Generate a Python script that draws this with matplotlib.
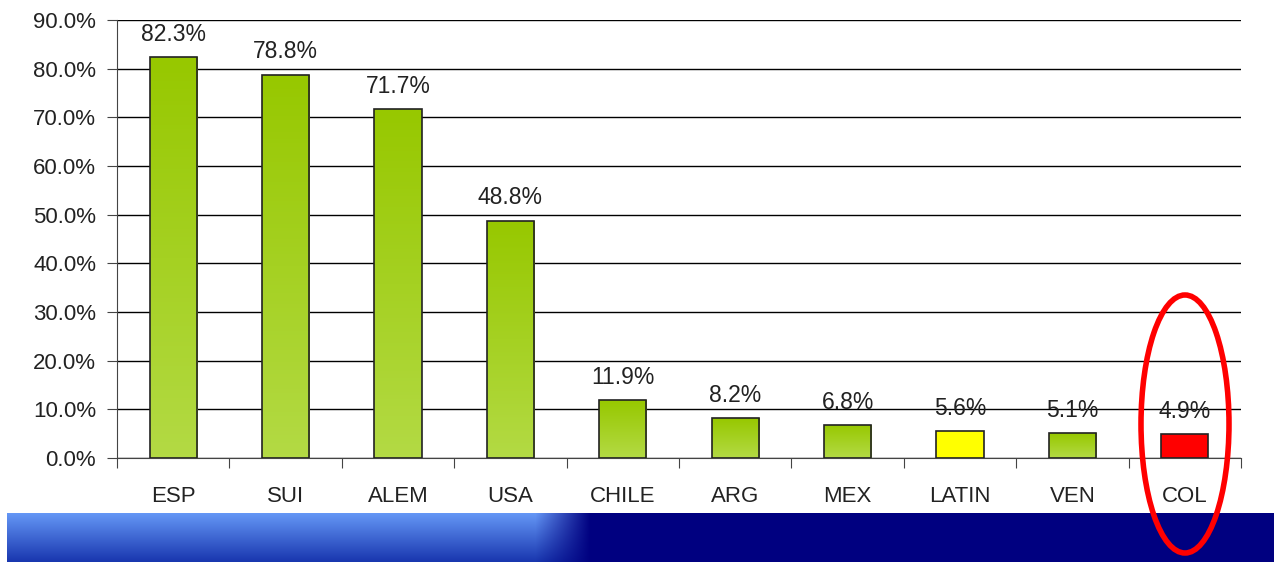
import numpy as np
import matplotlib.pyplot as plt
from matplotlib.patches import Ellipse
from matplotlib.colors import LinearSegmentedColormap

plt.rcParams['font.family'] = ['Liberation Sans', 'DejaVu Sans']

countries = ['ESP', 'SUI', 'ALEM', 'USA', 'CHILE', 'ARG', 'MEX', 'LATIN', 'VEN', 'COL']
values = [82.3, 78.8, 71.7, 48.8, 11.9, 8.2, 6.8, 5.6, 5.1, 4.9]
colors = ['green'] * 7 + ['#ffff00', 'green', '#ff0000']

fig = plt.figure(figsize=(12.74, 5.62), dpi=100)

# bottom banner
bax = fig.add_axes([0, 0, 1, 1 - 513 / 562], zorder=0)
w = 1274
h = 49
img = np.zeros((h, w, 3))
navy = np.array([0, 0, 128]) / 255
top_c = np.array([100, 150, 245]) / 255
bot_c = np.array([25, 55, 175]) / 255
for j in range(h):
    t = j / (h - 1)
    row = top_c * (1 - t) + bot_c * t
    for i in range(w):
        if i < 7:
            img[j, i] = 1
        else:
            f = np.clip((i - 535) / 55, 0, 1)
            img[j, i] = row * (1 - f) + navy * f
bax.imshow(img, aspect='auto', extent=[0, w, 0, h])
bax.axis('off')

ax = fig.add_axes([117 / 1274, 1 - 458 / 562, 1124 / 1274, 438 / 562], zorder=1)
ax.patch.set_alpha(0)
x = np.arange(len(countries))
bars = ax.bar(x, values, width=0.42, color='none', edgecolor='#222222', linewidth=1.2, zorder=3)

green_cmap = LinearSegmentedColormap.from_list('g', ['#b3da44', '#97c800'])
grad = np.linspace(0, 1, 100).reshape(-1, 1)
for b, c in zip(bars, colors):
    x0, y0 = b.get_x(), b.get_y()
    bw, bh = b.get_width(), b.get_height()
    if c == 'green':
        im = ax.imshow(grad, cmap=green_cmap, aspect='auto', origin='lower',
                       extent=[x0, x0 + bw, y0, y0 + bh], zorder=2)
        im.set_clip_path(b)
    else:
        ax.bar(b.get_x() + bw / 2, bh, width=bw, color=c, zorder=2)

for xi, v in zip(x, values):
    ax.annotate(f'{v:.1f}%', (xi, v), xytext=(0, 8), textcoords='offset points',
                ha='center', va='bottom', fontsize=16.5, color='#222222')

ax.set_xlim(-0.5, len(countries) - 0.5)
ax.set_ylim(0, 90)
ax.set_yticks(np.arange(0, 91, 10))
ax.set_yticklabels([f'{t:.1f}%' for t in np.arange(0, 91, 10)], fontsize=16, color='#222222')
ax.yaxis.grid(True, color='black', linewidth=1)
ax.set_axisbelow(True)

ax.set_xticks(np.arange(-0.5, len(countries), 1))
ax.set_xticklabels([])
ax.set_xticks(x, minor=True)
ax.set_xticklabels(countries, minor=True, fontsize=16, color='#222222')
ax.tick_params(axis='x', which='minor', length=0, pad=20)
ax.tick_params(axis='x', which='major', length=7, color='#444444')
ax.tick_params(axis='y', length=7, pad=8, color='#444444')

for s in ['top', 'right']:
    ax.spines[s].set_visible(False)
ax.spines['left'].set_color('#444444')
ax.spines['bottom'].set_color('#444444')

# red ellipse around COL
ell = Ellipse((1185 / 1274, 1 - 424 / 562), 88 / 1274, 258 / 562,
              transform=fig.transFigure, fill=False, edgecolor='#ff0000',
              linewidth=4, zorder=5)
fig.add_artist(ell)

fig.savefig('out.png', dpi=100)
